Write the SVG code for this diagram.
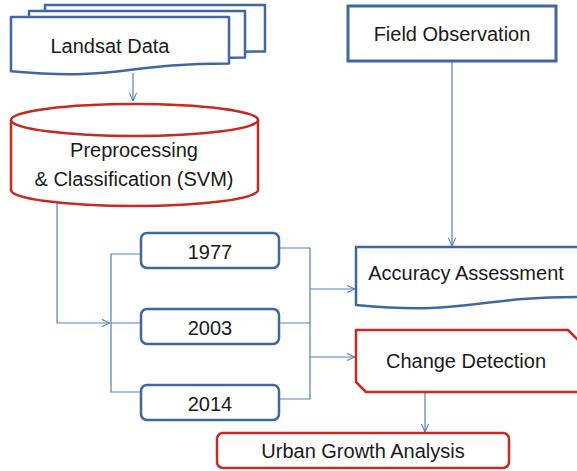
<svg xmlns="http://www.w3.org/2000/svg" width="577" height="471" viewBox="0 0 577 471">
<defs>
<style>
.b{fill:#fff;stroke:#41689c;stroke-width:2.5;stroke-linejoin:round}
.r{fill:#fff;stroke:#c42b25;stroke-width:2.5;stroke-linejoin:round}
.c{fill:none;stroke:#4f81bd;stroke-width:1.2}
.t{font-family:"Liberation Sans",Arial,sans-serif;font-size:20px;fill:#1a1a1a;text-anchor:middle}
</style>
<marker id="a" viewBox="0 0 10 10" refX="10" refY="5" markerWidth="9" markerHeight="9" markerUnits="userSpaceOnUse" orient="auto">
<path d="M1,1 L10,5 L1,9" fill="none" stroke="#4f81bd" stroke-width="1.2"/>
</marker>
</defs>
<g id="connectors">
<path class="c" d="M133,73 V101" marker-end="url(#a)"/>
<path class="c" d="M452,61 V246" marker-end="url(#a)"/>
<path class="c" d="M425,392 V432" marker-end="url(#a)"/>
<path class="c" d="M57,202 V323 H110" marker-end="url(#a)"/>
<path class="c" d="M141,254 H111 V392 H141 M111,323 H141"/>
<path class="c" d="M279,248 H310 V399 H279 M279,323 H310"/>
<path class="c" d="M310,289 H355" marker-end="url(#a)"/>
<path class="c" d="M310,357 H355" marker-end="url(#a)"/>
</g>
<g id="landsat">
<path class="b" d="M45,5 H265 V51.5 C155,51.5 155,69.2 45,59.2 Z"/>
<path class="b" d="M29,11 H245 V57.5 C137,57.5 137,75.2 29,65.2 Z"/>
<path class="b" d="M11,17 H229 V63.5 C120,63.5 120,81.2 11,71.2 Z"/>
<text class="t" x="110" y="53">Landsat Data</text>
</g>
<g id="preprocessing">
<path class="r" d="M11,120 A123.5,16 0 0 1 258,120 V190 A123.5,16 0 0 1 11,190 Z"/>
<path class="r" fill="none" d="M11,120 A123.5,16 0 0 0 258,120"/>
<text class="t" x="134" y="157">Preprocessing</text>
<text class="t" x="134" y="186">&amp; Classification (SVM)</text>
</g>
<g id="field">
<rect x="348" y="6" width="208" height="55" fill="#fff" stroke="#41689c" stroke-width="3"/>
<text class="t" x="452" y="41">Field Observation</text>
</g>
<g id="y1977">
<rect class="b" x="141" y="233" width="138" height="35" rx="6"/>
<text class="t" x="210" y="259">1977</text>
</g>
<g id="y2003">
<rect class="b" x="141" y="309" width="138" height="35" rx="6"/>
<text class="t" x="210" y="335">2003</text>
</g>
<g id="y2014">
<rect class="b" x="141" y="385" width="138" height="35" rx="6"/>
<text class="t" x="210" y="411">2014</text>
</g>
<g id="accuracy">
<path class="b" d="M356,247 H582 V297 C469,297 469,315.6 356,305 Z"/>
<text class="t" x="466" y="280">Accuracy Assessment</text>
</g>
<g id="change">
<path class="r" d="M356,330 H568 L582,344 V392 H366 L356,382 Z"/>
<text class="t" x="466" y="368">Change Detection</text>
</g>
<g id="urban">
<rect class="r" x="217" y="433" width="292" height="35" rx="6"/>
<text class="t" x="363" y="458">Urban Growth Analysis</text>
</g>
</svg>
